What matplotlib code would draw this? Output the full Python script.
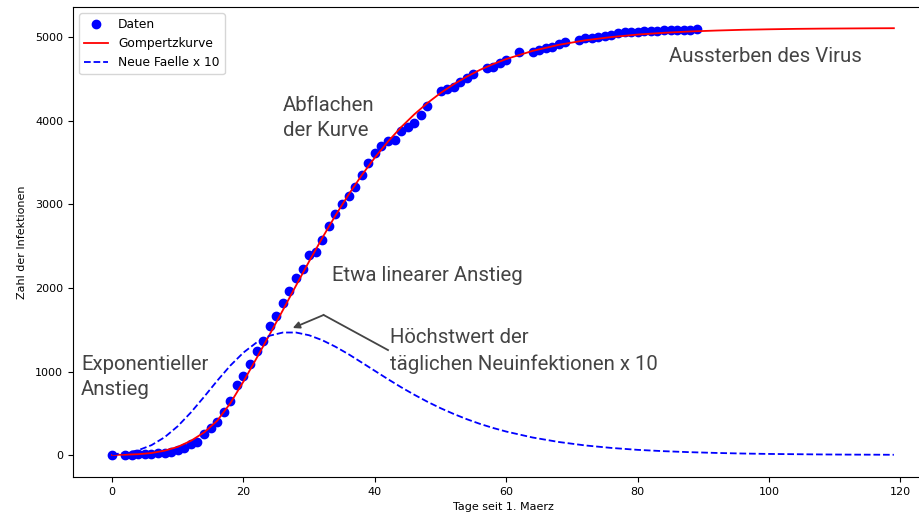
import matplotlib
matplotlib.use("Agg")
import matplotlib.pyplot as plt

# gemeldete Faelle (Tage seit 1. Maerz)
days = [0, 2, 3, 4, 5, 6, 7, 8, 9, 10, 11, 12, 13, 14, 15, 16, 17, 18, 19,
        20, 21, 22, 23, 24, 25, 26, 27, 28, 29, 30, 31, 32, 33, 34, 35, 36,
        37, 38, 39, 40, 41, 42, 43, 44, 45, 46, 47, 48, 50, 51, 52, 53, 54,
        55, 57, 58, 59, 60, 62, 64, 65, 66, 67, 68, 69, 71, 72, 73, 74, 75,
        76, 77, 78, 79, 80, 81, 82, 83, 84, 85, 86, 87, 88, 89]
cases = [0, 5, 5, 10, 15, 15, 20, 30, 40, 60, 90, 130, 160, 250, 320, 390,
         520, 650, 840, 950, 1090, 1240, 1370, 1540, 1670, 1825, 1965, 2120,
         2225, 2400, 2435, 2570, 2740, 2890, 3005, 3100, 3205, 3353, 3493,
         3613, 3705, 3762, 3772, 3880, 3924, 3975, 4072, 4175, 4358, 4380,
         4411, 4471, 4511, 4559, 4631, 4651, 4691, 4731, 4830, 4830, 4850,
         4870, 4890, 4918, 4950, 4970, 4990, 4998, 5010, 5018, 5030, 5050,
         5062, 5070, 5070, 5078, 5080, 5082, 5085, 5088, 5090, 5092, 5094,
         5096]

# Gompertzkurve und neue Faelle x 10
t_fit = [0, 2, 4, 6, 8, 10, 12, 14, 16, 18, 20, 22, 24, 26, 28, 30, 32, 34,
         36, 38, 40, 42, 44, 46, 48, 50, 52, 54, 56, 58, 60, 64, 68, 72, 76,
         80, 84, 88, 92, 96, 100, 104, 108, 112, 116, 119]
gompertz = [1, 4, 10, 24, 52, 98, 170, 270, 410, 620, 880, 1160, 1445, 1735,
            2029, 2319, 2600, 2868, 3119, 3350, 3562, 3754, 3926, 4079, 4215,
            4335, 4440, 4531, 4612, 4681, 4742, 4839, 4912, 4966, 5005, 5035,
            5056, 5072, 5083, 5092, 5098, 5103, 5106, 5108, 5110, 5111]
new_x10 = [8, 24, 58, 118, 213, 345, 510, 696, 889, 1071, 1227, 1348, 1429,
           1467, 1467, 1434, 1375, 1297, 1207, 1108, 1008, 908, 812, 722, 638,
           561, 492, 429, 373, 324, 281, 210, 156, 115, 85, 62, 46, 34, 25,
           18, 13, 10, 7, 5, 4, 3]

fig = plt.figure(figsize=(9.19, 5.14), dpi=100)
ax = fig.add_axes([0.0794, 0.072, 0.9358, 0.9144])

ax.plot(days, cases, "bo", markersize=6, label="Daten")
ax.plot(t_fit, gompertz, "r-", linewidth=1.3, label="Gompertzkurve")
ax.plot(t_fit, new_x10, "b--", linewidth=1.3, label="Neue Faelle x 10")

ax.set_xlim(-5.95, 124.95)
ax.set_ylim(-263, 5365)
ax.set_xticks([0, 20, 40, 60, 80, 100, 120])
ax.set_yticks([0, 1000, 2000, 3000, 4000, 5000])
ax.tick_params(labelsize=8)
ax.set_xlabel("Tage seit 1. Maerz", fontsize=8, labelpad=4)
ax.set_ylabel("Zahl der Infektionen", fontsize=8, labelpad=6)
ax.legend(loc="upper left", fontsize=8.8, labelspacing=0.5)

txt = dict(fontsize=14.7, color="#444444", linespacing=1.45,
           family=["Roboto", "DejaVu Sans"])
ax.text(26.0, 4036, "Abflachen\nder Kurve", va="center", **txt)
ax.text(84.7, 4778, "Aussterben des Virus", va="center", **txt)
ax.text(33.5, 2144, "Etwa linearer Anstieg", va="center", **txt)
ax.text(-4.7, 934, "Exponentieller\nAnstieg", va="center", **txt)
ax.text(42.3, 1245, "Höchstwert der\ntäglichen Neuinfektionen x 10",
        va="center", **txt)

ax.plot([42.0, 32.2], [1257, 1677], color="#444444", linewidth=1.3)
ax.annotate("", xy=(27.5, 1521), xytext=(32.2, 1677),
            arrowprops=dict(arrowstyle="-|>", color="#444444", lw=1.3,
                            mutation_scale=10, shrinkA=0, shrinkB=0))

fig.savefig("out.png", dpi=100)
